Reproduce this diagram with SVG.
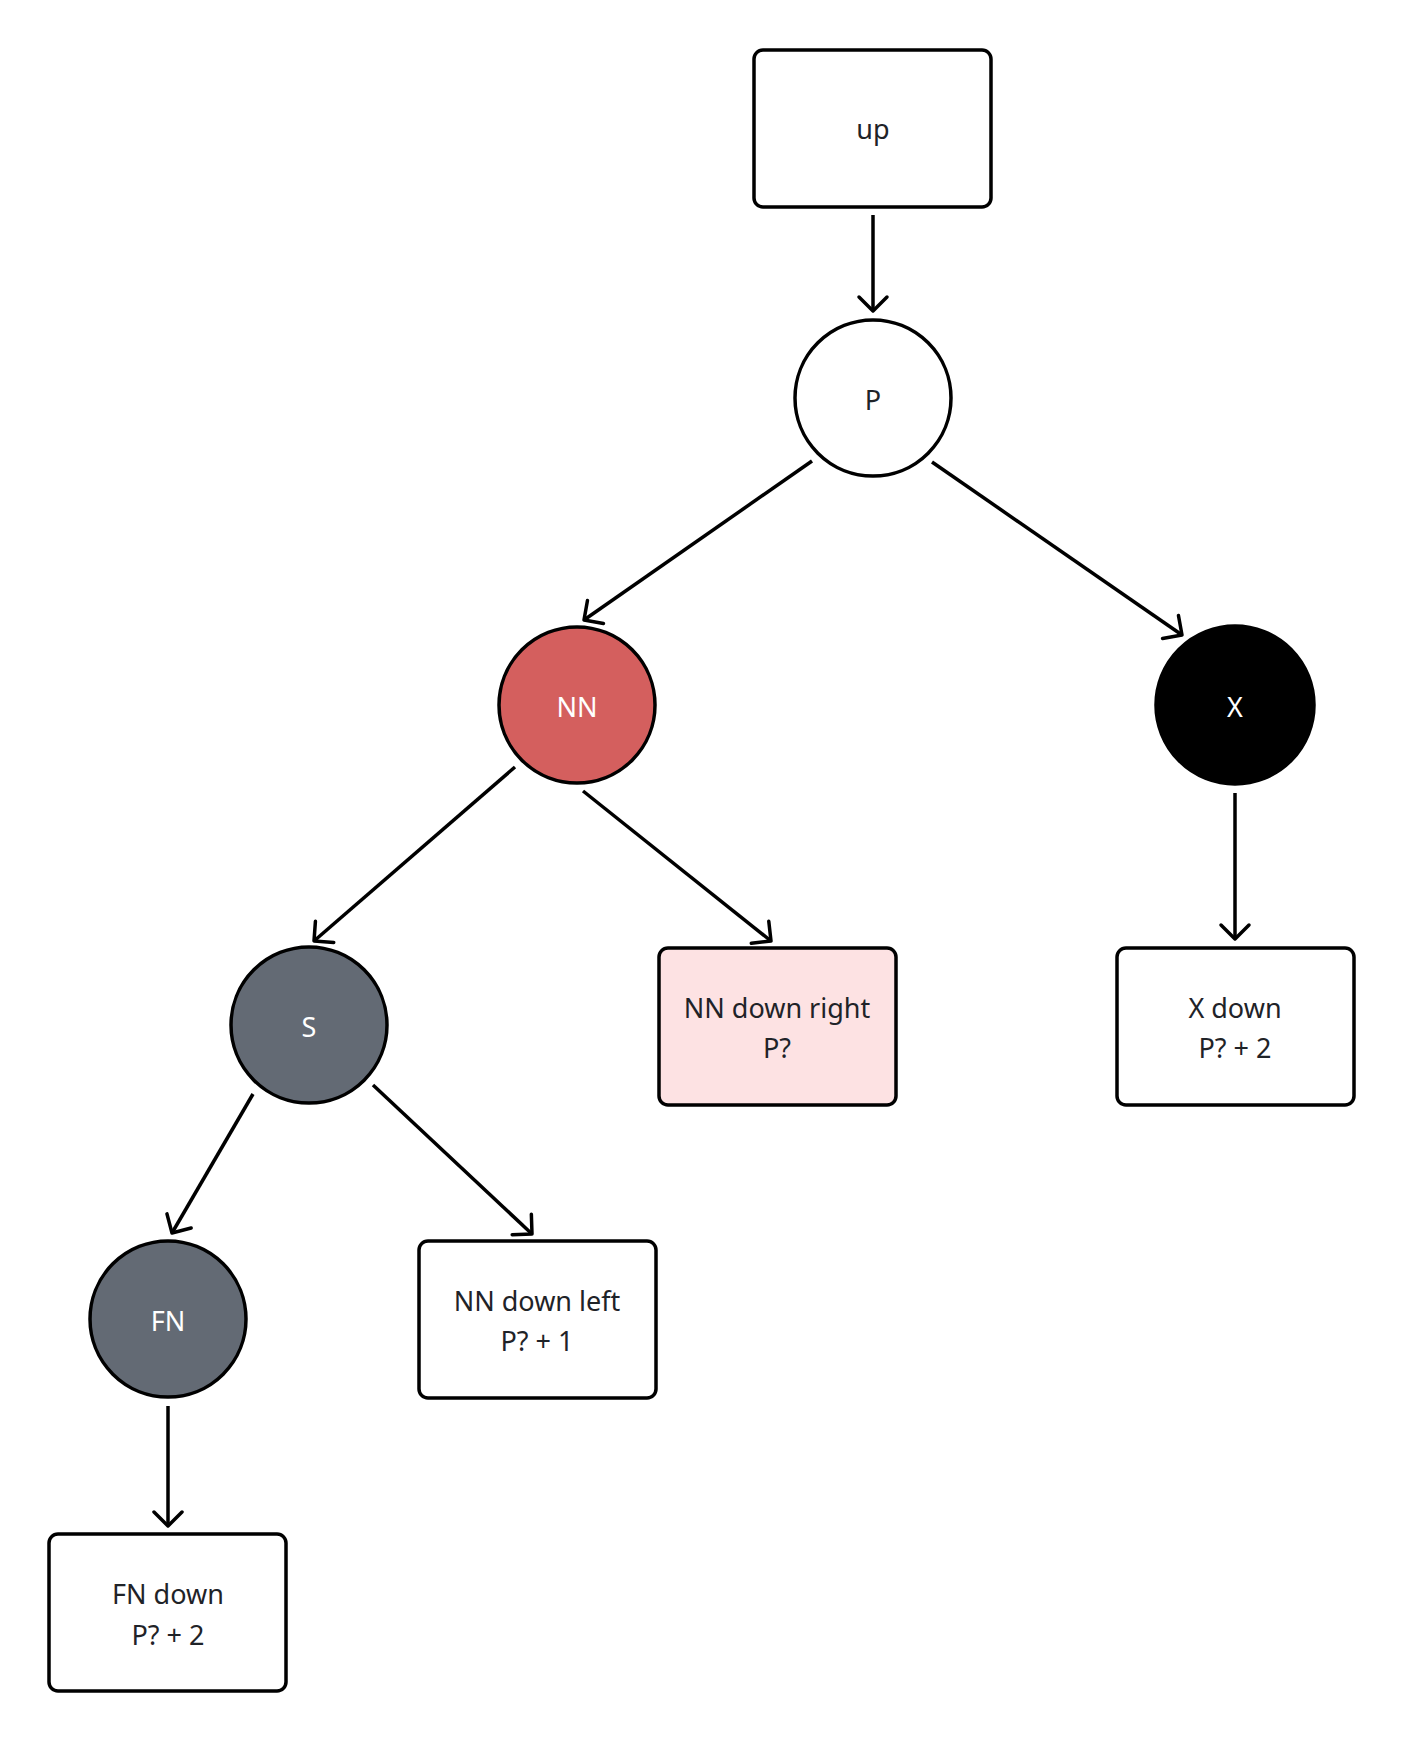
<svg xmlns="http://www.w3.org/2000/svg" width="1404" height="1742" viewBox="0 0 1404 1742">
  <style>
    .box { fill: #ffffff; stroke: #000000; stroke-width: 3.5; }
    .pink { fill: #fde2e3; }
    .node { stroke: #000000; stroke-width: 3.5; }
    .lbl { font-family: "Noto Sans", "Open Sans", sans-serif; font-size: 27px; fill: #1f2328; text-anchor: middle; }
    .light { fill: #ffffff; }
    .edge { stroke: #000000; stroke-width: 3.5; fill: none; marker-end: url(#arrow); }
  </style>
  <defs>
    <marker id="arrow" markerUnits="userSpaceOnUse" markerWidth="40" markerHeight="40" viewBox="-20 -20 40 40" refX="0" refY="0" orient="auto" overflow="visible">
      <path d="M -14 -14 L 0 0 L -14 14" fill="none" stroke="#000000" stroke-width="3.5" stroke-linecap="round" stroke-linejoin="round"/>
    </marker>
  </defs>
  <rect width="1404" height="1742" fill="#ffffff"/>

  <g id="connectors">
    <line class="edge" x1="873" y1="215" x2="873" y2="311"/>
    <line class="edge" x1="812" y1="461" x2="584" y2="620"/>
    <line class="edge" x1="932" y1="462" x2="1182" y2="635"/>
    <line class="edge" x1="515" y1="767" x2="314" y2="941"/>
    <line class="edge" x1="583" y1="791" x2="771" y2="941"/>
    <line class="edge" x1="1235" y1="793" x2="1235" y2="939"/>
    <line class="edge" x1="253" y1="1094" x2="172" y2="1233"/>
    <line class="edge" x1="373" y1="1085" x2="532" y2="1234"/>
    <line class="edge" x1="168" y1="1406" x2="168" y2="1526"/>
  </g>

  <g id="up">
    <rect class="box" x="754" y="50" width="237" height="157" rx="9"/>
    <text class="lbl" x="873" y="139">up</text>
  </g>

  <g id="P">
    <circle class="node" cx="873" cy="398" r="78" fill="#ffffff"/>
    <text class="lbl" x="873" y="410">P</text>
  </g>

  <g id="NN">
    <circle class="node" cx="577" cy="705" r="78" fill="#d45f5e"/>
    <text class="lbl light" x="577" y="717">NN</text>
  </g>

  <g id="X">
    <circle class="node" cx="1235" cy="705" r="79" fill="#000000"/>
    <text class="lbl light" x="1235" y="717">X</text>
  </g>

  <g id="S">
    <circle class="node" cx="309" cy="1025" r="78" fill="#636a74"/>
    <text class="lbl light" x="309" y="1037">S</text>
  </g>

  <g id="FN">
    <circle class="node" cx="168" cy="1319" r="78" fill="#636a74"/>
    <text class="lbl light" x="168" y="1331">FN</text>
  </g>

  <g id="nn-down-right">
    <rect class="box pink" x="659" y="948" width="237" height="157" rx="9"/>
    <text class="lbl" x="777" y="1018">NN down right</text>
    <text class="lbl" x="777" y="1058">P?</text>
  </g>

  <g id="x-down">
    <rect class="box" x="1117" y="948" width="237" height="157" rx="9"/>
    <text class="lbl" x="1235" y="1018">X down</text>
    <text class="lbl" x="1235" y="1058">P? + 2</text>
  </g>

  <g id="nn-down-left">
    <rect class="box" x="419" y="1241" width="237" height="157" rx="9"/>
    <text class="lbl" x="537" y="1311">NN down left</text>
    <text class="lbl" x="537" y="1351">P? + 1</text>
  </g>

  <g id="fn-down">
    <rect class="box" x="49" y="1534" width="237" height="157" rx="9"/>
    <text class="lbl" x="168" y="1604">FN down</text>
    <text class="lbl" x="168" y="1645">P? + 2</text>
  </g>
</svg>
